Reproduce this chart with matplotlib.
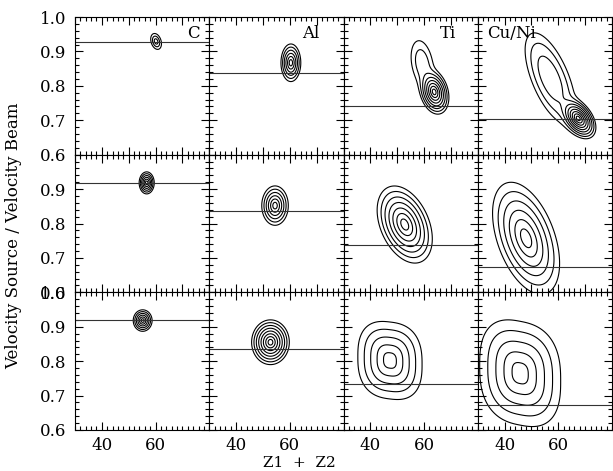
import numpy as np
import matplotlib
matplotlib.use("Agg")
import matplotlib.pyplot as plt
from matplotlib.ticker import MultipleLocator

# ---- data ----
elements = ["C", "Al", "Ti", "Cu/Ni"]
# horizontal reference lines (velocity ratio) per row / column
ref_lines = [
    [0.928, 0.838, 0.742, 0.703],
    [0.918, 0.835, 0.738, 0.675],
    [0.920, 0.836, 0.735, 0.673],
]
# blob components per panel:
# (Z centre, v centre, width Z, width v, shear, amplitude, shape exponent)
blobs = [
    [
        [(60.2, 0.929, 0.77, 0.0085, 0.3, 1.0, 2)],
        [(60.4, 0.867, 1.42, 0.021, 0.0, 1.0, 2)],
        [(63.8, 0.782, 2.1, 0.024, 0.25, 1.0, 2), (59.3, 0.865, 2.6, 0.040, 0.3, 0.12, 2)],
        [(67.5, 0.705, 2.5, 0.020, 0.5, 1.0, 2), (57.0, 0.822, 5.0, 0.055, 0.8, 0.20, 2)],
    ],
    [
        [(56.7, 0.918, 1.08, 0.0123, 0.0, 1.0, 2)],
        [(54.5, 0.852, 1.9, 0.022, 0.0, 1.0, 2)],
        [(52.8, 0.797, 3.95, 0.040, 0.4, 1.0, 2)],
        [(48.0, 0.757, 4.8, 0.056, 0.5, 1.0, 2)],
    ],
    [
        [(55.2, 0.918, 1.35, 0.012, 0.0, 1.0, 2)],
        [(52.8, 0.855, 2.7, 0.025, 0.0, 1.0, 2)],
        [(47.3, 0.802, 4.6, 0.043, 0.1, 1.0, 2.6)],
        [(45.8, 0.765, 5.8, 0.058, 0.15, 1.0, 2.6)],
    ],
]
n_levels = [
    [3, 6, 8, 9],
    [6, 6, 7, 6],
    [6, 8, 5, 5],
]
x_ticklabels = [40, 60]

# ---- figure ----
plt.rcParams["font.family"] = ["DejaVu Serif"]
fig, axes = plt.subplots(3, 4, figsize=(6.13, 4.71), dpi=100)
fig.subplots_adjust(left=75/613, right=612/613, top=1-17/471, bottom=1-430/471,
                    wspace=0, hspace=0)

xg = np.linspace(30, 80, 500)
yg = np.linspace(0.6, 1.0, 500)
X, Y = np.meshgrid(xg, yg)
R_OUT = 2.6

for r in range(3):
    for c in range(4):
        ax = axes[r, c]
        Z = np.zeros_like(X)
        for (cx, cy, sx, sy, sh, amp, m) in blobs[r][c]:
            u = (X - cx) / sx
            v = (Y - cy) / sy + sh * u
            R = (np.abs(u) ** m + np.abs(v) ** m) ** (1.0 / m)
            Z += amp * np.exp(-0.5 * R ** 2)
        Z /= Z.max()
        n = n_levels[r][c]
        radii = R_OUT * np.arange(n, 0, -1) / n
        levels = np.exp(-0.5 * radii ** 2)
        ax.contour(X, Y, Z, levels=levels, colors="black", linewidths=0.8)
        ax.axhline(ref_lines[r][c], color="#333333", lw=0.8)
        ax.set_xlim(30, 80)
        ax.set_ylim(0.6, 1.0)
        ax.xaxis.set_major_locator(MultipleLocator(10))
        ax.xaxis.set_minor_locator(MultipleLocator(2))
        ax.yaxis.set_major_locator(MultipleLocator(0.1))
        ax.yaxis.set_minor_locator(MultipleLocator(0.02))
        ax.tick_params(which="both", direction="in", top=True, right=True,
                       labelsize=12, colors="black")
        ax.tick_params(which="major", length=6, width=0.8)
        ax.tick_params(which="minor", length=3, width=0.8)
        ax.tick_params(axis="x", pad=5)
        ax.tick_params(axis="y", pad=6)
        for s in ax.spines.values():
            s.set_linewidth(0.8)
        if r == 2:
            ax.set_xticks(x_ticklabels)
            ax.set_xticklabels([str(t) for t in x_ticklabels])
        else:
            ax.set_xticklabels([])
        if c == 0:
            ax.set_yticks([0.6, 0.7, 0.8, 0.9, 1.0])
            if r == 1:
                ax.set_yticklabels(["0.6", "0.7", "0.8", "0.9", ""])
            else:
                ax.set_yticklabels(["0.6", "0.7", "0.8", "0.9", "1.0"])
        else:
            ax.set_yticklabels([])

label_pos = [(0.93, "right"), (0.69, "left"), (0.84, "right"), (0.07, "left")]
for c, name in enumerate(elements):
    xpos, ha = label_pos[c]
    axes[0, c].text(xpos, 0.88, name, transform=axes[0, c].transAxes,
                    ha=ha, va="center", fontsize=12)

fig.text(0.022, 0.5, "Velocity Source / Velocity Beam", rotation=90,
         ha="center", va="center", fontsize=12)
fig.text(299/613, 1-470/471, "Z1  +  Z2", ha="center", va="bottom", fontsize=11)

fig.savefig("out.png", dpi=100)
